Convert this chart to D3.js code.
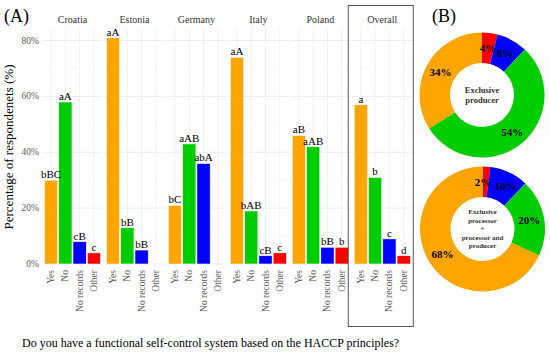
<!DOCTYPE html>
<meta charset="utf-8">
<script src="https://cdnjs.cloudflare.com/ajax/libs/d3/7.8.5/d3.min.js"></script>
<style>
  body { margin: 0; background: #fff; }
</style>
<body>
<div id="chart"></div>
<script>
  var WIDTH = 550
  var HEIGHT = 353

  // data
  var countries = ["Croatia", "Estonia", "Germany", "Italy", "Poland", "Overall"]
  var answers = ["Yes", "No", "No records", "Other"]
  var colors = ["#ffa500", "#00cd00", "#0000ff", "#ff0000"]
  var values = [
    [30, 58, 8, 4],
    [81, 13, 5, 0],
    [21, 43, 36, 0],
    [74, 19, 3, 4],
    [46, 42, 6, 6],
    [57, 31, 9, 3]
  ]
  var letters = [
    ["bBC", "aA", "cB", "c"],
    ["aA", "bB", "bB", ""],
    ["bC", "aAB", "abA", ""],
    ["aA", "bAB", "cB", "c"],
    ["aB", "aAB", "bB", "b"],
    ["a", "b", "c", "d"]
  ]
  var yTicks = [0, 20, 40, 60, 80]

  var donutNames = [["Exclusive", "producer"], ["Exclusive", "processor", "+", "processor and", "producer"]]
  var donutValues = [
    [4, 8, 54, 34],
    [2, 10, 20, 68]
  ]
  // order in the ring, clockwise from the top: Other, No records, No, Yes
  var donutColors = ["#ff0000", "#0000ff", "#00cd00", "#ffa500"]

  var svg = d3.select("#chart").append("svg")
    .attr("width", WIDTH)
    .attr("height", HEIGHT)
    .attr("font-family", "'Liberation Serif', 'Times New Roman', 'DejaVu Serif', serif")

  // (A) bars
  var y = d3.scaleLinear().domain([0, 80]).range([264, 40.5])
  var panelX = d3.scaleBand().domain(countries).range([44, 412]).paddingInner(0.06).paddingOuter(0)
  var PANEL_W = 57

  svg.append("text").attr("x", 4).attr("y", 22).attr("font-size", 18).text("(A)")

  // y grid
  var minor = d3.range(0, 90, 10)
  countries.forEach(function(c) {
    var x0 = panelX(c) - 2
    var g = svg.append("g")
    g.selectAll("line.h").data(minor).enter().append("line")
      .attr("x1", x0).attr("x2", x0 + PANEL_W + 3)
      .attr("y1", function(d) { return y(d) }).attr("y2", function(d) { return y(d) })
      .attr("stroke", function(d) { return d % 20 == 0 ? "#e6e6e6" : "#f2f2f2" })
      .attr("stroke-width", function(d) { return d % 20 == 0 ? 0.8 : 0.5 })
  })

  svg.selectAll("text.ytick").data(yTicks).enter().append("text")
    .attr("x", 39).attr("y", function(d) { return y(d) + 3 })
    .attr("text-anchor", "end").attr("font-size", 9.5).attr("fill", "#5a5a5a")
    .text(function(d) { return d + "%" })

  svg.append("text")
    .attr("transform", "translate(13,147) rotate(-90)")
    .attr("text-anchor", "middle").attr("font-size", 13)
    .text("Percentage of respondenets (%)")

  countries.forEach(function(c, i) {
    var x0 = panelX(c)
    var x = d3.scaleBand().domain(answers).range([x0, x0 + PANEL_W]).paddingInner(0.07).paddingOuter(0.03)
    var g = svg.append("g")

    g.selectAll("line.v").data(answers).enter().append("line")
      .attr("x1", function(d) { return x(d) + x.bandwidth() / 2 })
      .attr("x2", function(d) { return x(d) + x.bandwidth() / 2 })
      .attr("y1", 28).attr("y2", 266)
      .attr("stroke", "#ececec").attr("stroke-width", 0.8)

    g.append("text")
      .attr("x", x0 + PANEL_W / 2).attr("y", 23)
      .attr("text-anchor", "middle").attr("font-size", 10).attr("fill", "#333")
      .text(c)

    var rows = answers.map(function(a, j) { return { a: a, v: values[i][j], l: letters[i][j], c: colors[j] } })

    g.selectAll("rect").data(rows.filter(function(d) { return d.v > 0 })).enter().append("rect")
      .attr("x", function(d) { return x(d.a) })
      .attr("width", x.bandwidth())
      .attr("y", function(d) { return y(d.v) })
      .attr("height", function(d) { return y(0) - y(d.v) })
      .attr("fill", function(d) { return d.c })
      .attr("stroke", "#fff").attr("stroke-width", 0.6)

    g.selectAll("text.lab").data(rows.filter(function(d) { return d.l })).enter().append("text")
      .attr("x", function(d) { return x(d.a) + x.bandwidth() / 2 })
      .attr("y", function(d) { return y(d.v) - 2 })
      .attr("text-anchor", "middle").attr("font-size", 11)
      .text(function(d) { return d.l })

    g.selectAll("text.xt").data(answers).enter().append("text")
      .attr("transform", function(d) { return "translate(" + (x(d) + x.bandwidth() / 2 + 3) + ",270) rotate(-90)" })
      .attr("text-anchor", "end").attr("font-size", 9.5).attr("fill", "#5a5a5a")
      .text(function(d) { return d })
  })

  // box round Overall
  var ox = panelX("Overall")
  svg.append("rect")
    .attr("x", ox - 5.5).attr("y", 5.5).attr("width", PANEL_W + 8).attr("height", 321)
    .attr("fill", "none").attr("stroke", "#555").attr("stroke-width", 1)

  svg.append("text").attr("x", 22).attr("y", 347).attr("font-size", 12)
    .text("Do you have a functional self-control system based on the HACCP principles?")

  // (B) donuts
  svg.append("text").attr("x", 432).attr("y", 22).attr("font-size", 18).text("(B)")

  var centers = [[482, 95], [482.5, 229]]
  var R = 62.5, r = 32
  var pie = d3.pie().sort(null).value(function(d) { return d })
  var arc = d3.arc().innerRadius(r).outerRadius(R)
  var labelArc = d3.arc().innerRadius(R - 15).outerRadius(R - 15)

  donutValues.forEach(function(vals, k) {
    var g = svg.append("g").attr("transform", "translate(" + centers[k][0] + "," + centers[k][1] + ")")
    var arcs = pie(vals)
    g.selectAll("path").data(arcs).enter().append("path")
      .attr("d", arc)
      .attr("fill", function(d, i) { return donutColors[i] })
    g.selectAll("text.pct").data(arcs).enter().append("text")
      .attr("transform", function(d, i) {
        var p = labelArc.centroid(d)
        // tiny first slice: pull its label left, push the next one right
        var dx = 0
        if (i == 0 && d.value < 3) dx = -2.5
        if (i == 1 && arcs[0].value < 3) dx = 3
        return "translate(" + (p[0] + dx) + "," + (p[1] + 4) + ")"
      })
      .attr("text-anchor", "middle").attr("font-size", 11).attr("font-weight", "bold")
      .text(function(d) { return d.value + "%" })

    var lines = donutNames[k]
    var fs = k == 0 ? 8.5 : 7
    g.selectAll("text.name").data(lines).enter().append("text")
      .attr("x", 0)
      .attr("y", function(d, i) { return (i - (lines.length - 1) / 2) * (fs + 1.5) + fs * 0.35 })
      .attr("text-anchor", "middle").attr("font-size", fs).attr("font-weight", "bold").attr("fill", "#333")
      .text(function(d) { return d })
  })
</script>
</body>
